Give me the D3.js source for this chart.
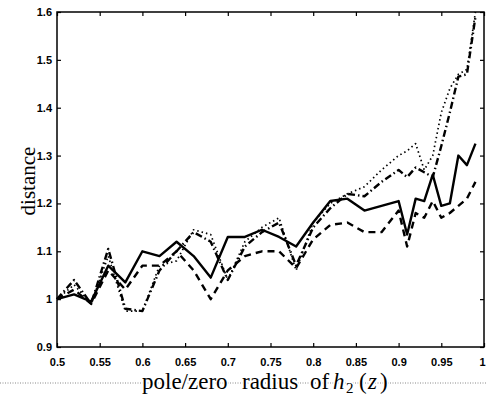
<!DOCTYPE html>
<html>
<head>
<meta charset="utf-8">
<script src="https://cdn.jsdelivr.net/npm/d3@7"></script>
<style>
  body { margin: 0; background: #fff; }
  svg { display: block; }
</style>
</head>
<body>
<div id="chart"></div>
<script>
// pole/zero radius values (finer step close to 1)
var radius = [0.50, 0.52, 0.54, 0.56, 0.58, 0.60, 0.62, 0.64, 0.66, 0.68,
              0.70, 0.72, 0.74, 0.76, 0.78, 0.80, 0.82, 0.84, 0.86, 0.88,
              0.90, 0.91, 0.92, 0.93, 0.94, 0.95, 0.96, 0.97, 0.98, 0.99];

var solid = [1.00, 1.01, 0.995, 1.07, 1.035, 1.10, 1.09, 1.12, 1.09, 1.045,
             1.13, 1.13, 1.145, 1.13, 1.11, 1.16, 1.205, 1.21, 1.185, 1.195,
             1.205, 1.135, 1.21, 1.205, 1.26, 1.195, 1.20, 1.30, 1.28, 1.325];

var dashed = [1.00, 1.02, 0.99, 1.06, 1.02, 1.07, 1.07, 1.10, 1.06, 1.00,
              1.06, 1.09, 1.10, 1.10, 1.065, 1.125, 1.155, 1.16, 1.14, 1.14,
              1.185, 1.11, 1.18, 1.17, 1.205, 1.17, 1.18, 1.195, 1.21, 1.245];

var dotted = [1.00, 1.03, 0.99, 1.09, 0.975, 0.975, 1.07, 1.08, 1.145, 1.135,
              1.04, 1.12, 1.15, 1.17, 1.06, 1.16, 1.20, 1.22, 1.235, 1.27,
              1.30, 1.31, 1.325, 1.27, 1.30, 1.39, 1.44, 1.47, 1.48, 1.60];

var dashdot = [1.00, 1.04, 0.99, 1.105, 0.98, 0.975, 1.06, 1.10, 1.14, 1.12,
               1.04, 1.11, 1.14, 1.16, 1.07, 1.15, 1.19, 1.22, 1.215, 1.245,
               1.27, 1.255, 1.275, 1.265, 1.255, 1.32, 1.39, 1.465, 1.47, 1.59];

var xTicks = [0.5, 0.55, 0.6, 0.65, 0.7, 0.75, 0.8, 0.85, 0.9, 0.95, 1];
var xTickLabels = ["0.5", "0.55", "0.6", "0.65", "0.7", "0.75", "0.8", "0.85", "0.9", "0.95", "1"];
var yTicks = [0.9, 1, 1.1, 1.2, 1.3, 1.4, 1.5, 1.6];
var yTickLabels = ["0.9", "1", "1.1", "1.2", "1.3", "1.4", "1.5", "1.6"];

var W = 486, H = 396;
var margin = { left: 57, right: 2, top: 12, bottom: 49 };

var svg = d3.select("#chart").append("svg")
  .attr("width", W)
  .attr("height", H);

var x = d3.scaleLinear().domain([0.5, 1]).range([margin.left, W - margin.right]);
var y = d3.scaleLinear().domain([0.9, 1.6]).range([H - margin.bottom, margin.top]);

// box
svg.append("rect")
  .attr("x", x(0.5)).attr("y", y(1.6))
  .attr("width", x(1) - x(0.5)).attr("height", y(0.9) - y(1.6))
  .attr("fill", "none").attr("stroke", "#000").attr("stroke-width", 1.5);

// axes, ticks pointing inward, on all four sides
var tickFont = "bold 11px 'Liberation Sans', Arial, sans-serif";

var xAxis = svg.append("g")
  .attr("transform", `translate(0,${y(0.9)})`)
  .call(d3.axisBottom(x).tickValues(xTicks).tickSizeInner(-4).tickSizeOuter(0)
    .tickPadding(11).tickFormat((d, i) => xTickLabels[i]));
xAxis.select(".domain").remove();
xAxis.selectAll("text").style("font", tickFont).attr("fill", "#000");
// last label sits at the page edge: keep it inside
xAxis.selectAll("text").filter((d) => d === 1).attr("text-anchor", "end").attr("dx", 1);

var xAxisTop = svg.append("g")
  .attr("transform", `translate(0,${y(1.6)})`)
  .call(d3.axisTop(x).tickValues(xTicks).tickSizeInner(-4).tickSizeOuter(0).tickFormat(""));
xAxisTop.select(".domain").remove();

var yAxis = svg.append("g")
  .attr("transform", `translate(${x(0.5)},0)`)
  .call(d3.axisLeft(y).tickValues(yTicks).tickSizeInner(-4).tickSizeOuter(0)
    .tickPadding(5).tickFormat((d, i) => yTickLabels[i]));
yAxis.select(".domain").remove();
yAxis.selectAll("text").style("font", tickFont).attr("fill", "#000");

var yAxisRight = svg.append("g")
  .attr("transform", `translate(${x(1)},0)`)
  .call(d3.axisRight(y).tickValues(yTicks).tickSizeInner(-4).tickSizeOuter(0).tickFormat(""));
yAxisRight.select(".domain").remove();

svg.selectAll(".tick line").attr("stroke", "#000").attr("stroke-width", 1.2);

// series
var series = [
  { values: dotted, dash: "1.5,3", width: 1.7 },
  { values: dashdot, dash: "7,3,1.5,3", width: 2.4 },
  { values: dashed, dash: "7,5", width: 2.4 },
  { values: solid, dash: null, width: 2.4 }
];

var line = d3.line()
  .x((d, i) => x(radius[i]))
  .y((d) => y(d));

svg.selectAll(".series")
  .data(series)
  .join("path")
  .attr("class", "series")
  .attr("d", (d) => line(d.values))
  .attr("fill", "none")
  .attr("stroke", "#000")
  .attr("stroke-width", (d) => d.width)
  .attr("stroke-dasharray", (d) => d.dash)
  .attr("stroke-linejoin", "round");

// dotted rule running through the x label row
svg.append("line")
  .attr("x1", 0).attr("x2", W)
  .attr("y1", 383).attr("y2", 383)
  .attr("stroke", "#888")
  .attr("stroke-width", 1)
  .attr("stroke-dasharray", "1,1.5");

// x label, words placed where they sit in the scan
var serif = "'Liberation Serif', 'Times New Roman', serif";
var xl = svg.append("text")
  .attr("y", 389)
  .style("font-family", serif)
  .style("font-size", "23px")
  .attr("fill", "#000")
  .attr("stroke", "#fff")
  .attr("stroke-width", 3)
  .attr("paint-order", "stroke");
xl.append("tspan").attr("x", 142).text("pole/zero");
xl.append("tspan").attr("x", 242).text("radius");
xl.append("tspan").attr("x", 310).text("of");
xl.append("tspan").attr("x", 333).style("font-style", "italic").text("h");
xl.append("tspan").attr("x", 346).attr("dy", 4).style("font-size", "15px").text("2");
xl.append("tspan").attr("x", 359).attr("dy", -4).text("(");
xl.append("tspan").attr("x", 368).style("font-style", "italic").text("z");
xl.append("tspan").attr("x", 380).text(")");

svg.append("text")
  .attr("transform", "translate(35,181) rotate(-90)")
  .attr("text-anchor", "middle")
  .style("font-family", serif)
  .style("font-size", "21px")
  .attr("fill", "#000")
  .text("distance");
</script>
</body>
</html>
